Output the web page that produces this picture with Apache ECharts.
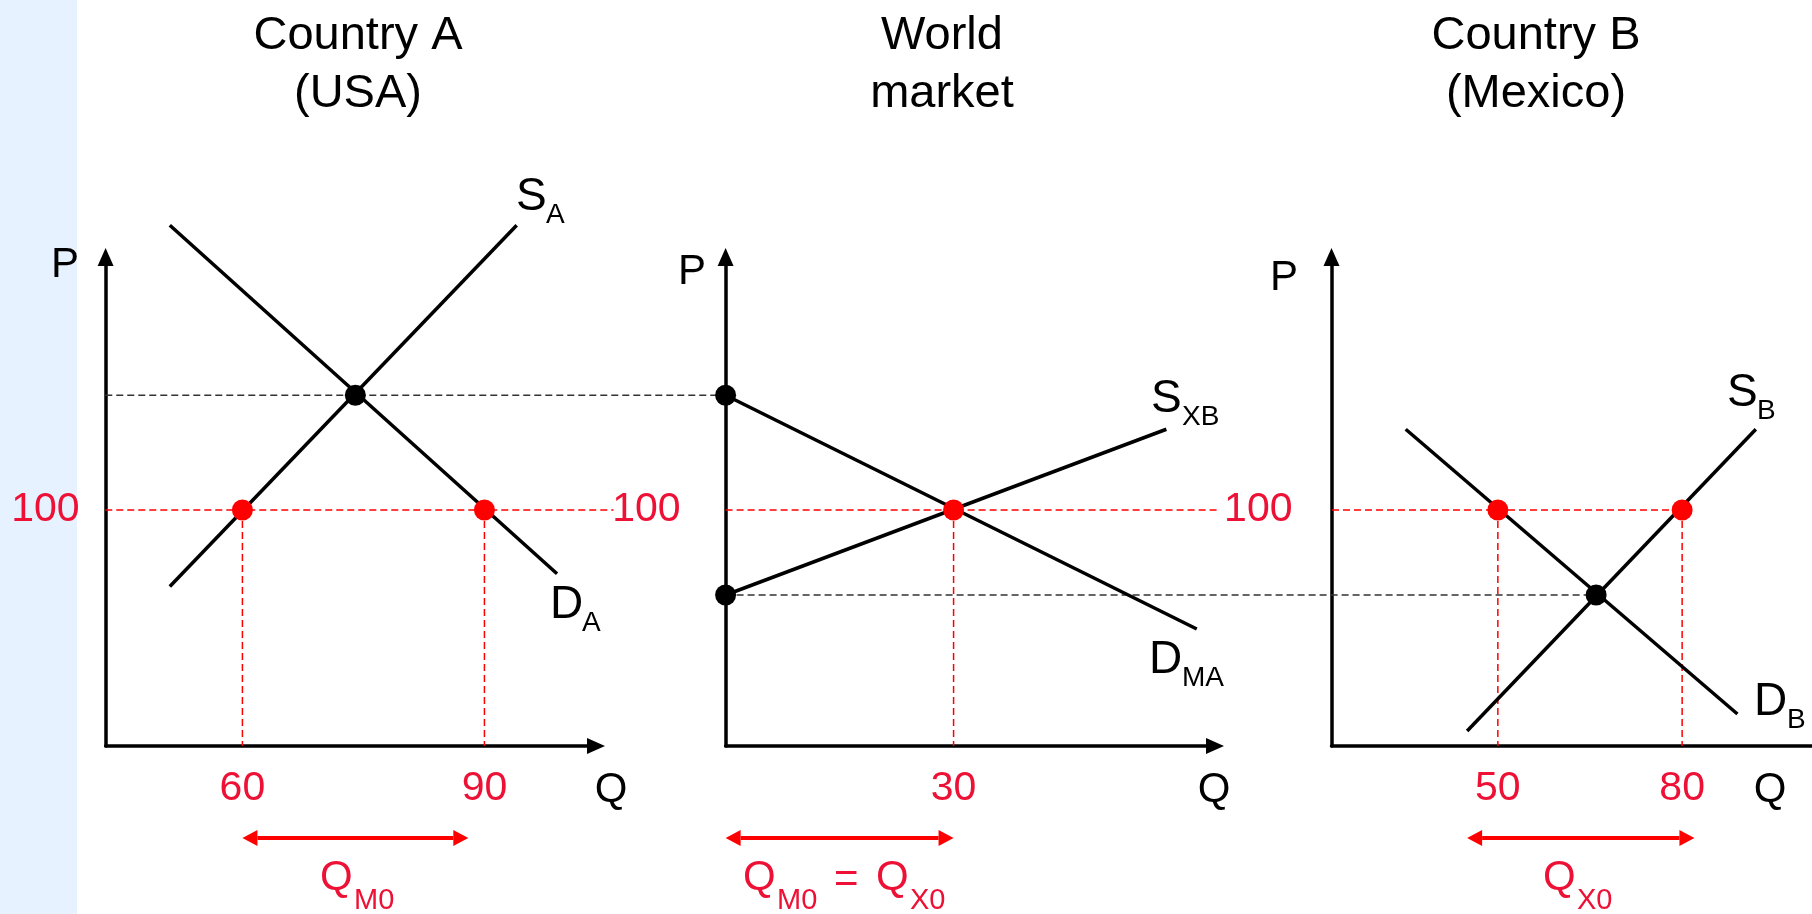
<!DOCTYPE html>
<html>
<head>
<meta charset="utf-8">
<title>Country A, world market, Country B</title>
<script src="https://cdn.jsdelivr.net/npm/echarts@6/dist/echarts.min.js"></script>
<style>
  html, body { margin: 0; padding: 0; background: #fff; }
  #chart { width: 1812px; height: 914px; }
</style>
</head>
<body>
<div id="chart"></div>
<script>
// country A (USA)
const supplyA = [[51, 82], [94, 167]]
const demandA = [[51, 167], [99, 85]]
const equilibriumA = [[74, 127]]
const tradeA = [[60, 100], [90, 100]]
const ticksA = [60, 90]
const arrowA = [60, 88]

// world market
const demandMA = [[0, 127], [62, 72]]
const supplyXB = [[0, 80], [58, 119]]
const interceptsW = [[0, 127], [0, 80]]
const tradeW = [[30, 100]]
const ticksW = [30]
const arrowW = [0, 30]

// country B (Mexico)
const supplyB = [[45, 48], [92, 119]]
const demandB = [[35, 119], [89, 52]]
const equilibriumB = [[66, 80]]
const tradeB = [[50, 100], [80, 100]]
const ticksB = [50, 80]
const arrowB = [45, 82]

// prices and guide lines (they run across to the next panel)
const priceTicks = [100]
const autarkyGuideA = [[43, 127], [119, 127]]
const autarkyGuideB = [[0, 80], [115, 80]]
const worldGuideA = [[43, 100], [106, 100]]
const worldGuideW = [[0, 100], [65, 100]]
const worldGuideB = [[23, 100], [80, 100]]

const P_MIN = 44.47
const P_MAX = 159.53
const FONT = '"Liberation Sans", Arial, sans-serif'
const RED = '#ff0000'
const TEXT_RED = '#ee1136'
const ARROW_DROP = 92

const chart = echarts.init(document.getElementById('chart'))

function axisLine() {
  return {
    onZero: false,
    symbol: ['none', 'triangle'],
    symbolSize: [16, 18],
    lineStyle: { color: '#000', width: 3.5 }
  }
}

function qAxis(idx, min, max, ticks) {
  return {
    type: 'value', gridIndex: idx, min: min, max: max,
    axisLine: axisLine(),
    axisTick: { show: false },
    splitLine: { show: false },
    axisLabel: { customValues: ticks, color: TEXT_RED, fontSize: 41, fontFamily: FONT, margin: 22 }
  }
}

function pAxis(idx, margin) {
  return {
    type: 'value', gridIndex: idx, min: P_MIN, max: P_MAX,
    axisLine: axisLine(),
    axisTick: { show: false },
    splitLine: { show: false },
    axisLabel: { customValues: priceTicks, color: TEXT_RED, fontSize: 41, fontFamily: FONT, margin: margin }
  }
}

function curve(idx, data) {
  return {
    type: 'line', xAxisIndex: idx, yAxisIndex: idx, data: data,
    symbol: 'none', clip: false, silent: true, z: 3,
    lineStyle: { color: '#000', width: 3.5 }
  }
}

// dashed guides are custom items so they are not cut at the grid edge
function guides(idx, segments, color) {
  return {
    type: 'custom', xAxisIndex: idx, yAxisIndex: idx, silent: true, z: 2,
    data: segments.map(s => [s[0][0], s[0][1], s[1][0], s[1][1]]),
    encode: { x: [0, 2], y: [1, 3] },
    renderItem: function (params, api) {
      const a = api.coord([api.value(0), api.value(1)])
      const b = api.coord([api.value(2), api.value(3)])
      return {
        type: 'line',
        shape: { x1: a[0], y1: a[1], x2: b[0], y2: b[1] },
        style: { stroke: color, lineWidth: 1.5, lineDash: [7, 4] }
      }
    }
  }
}

function drops(qs) {
  return qs.map(q => [[q, 100], [q, P_MIN]])
}

function dots(idx, data, color) {
  return {
    type: 'scatter', xAxisIndex: idx, yAxisIndex: idx, data: data,
    symbolSize: 21, clip: false, silent: true, z: 5,
    itemStyle: { color: color, opacity: 1 }
  }
}

function renderArrow(params, api) {
  const a = api.coord([api.value(0), P_MIN])
  const b = api.coord([api.value(1), P_MIN])
  const y = a[1] + ARROW_DROP
  const x1 = a[0]
  const x2 = b[0]
  const h = 15
  const w = 8
  return {
    type: 'group',
    children: [
      { type: 'line', shape: { x1: x1 + h, y1: y, x2: x2 - h, y2: y }, style: { stroke: RED, lineWidth: 4 } },
      { type: 'polygon', shape: { points: [[x1, y], [x1 + h, y - w], [x1 + h, y + w]] }, style: { fill: RED } },
      { type: 'polygon', shape: { points: [[x2, y], [x2 - h, y - w], [x2 - h, y + w]] }, style: { fill: RED } }
    ]
  }
}

function arrow(idx, data) {
  return {
    type: 'custom', xAxisIndex: idx, yAxisIndex: idx, data: [data],
    renderItem: renderArrow, silent: true, z: 4
  }
}

function text(x, y, str, size, color, align) {
  return {
    type: 'text', x: x, y: y, silent: true,
    style: { text: str, fontSize: size, fontFamily: FONT, fill: color, align: align || 'left', verticalAlign: 'middle' }
  }
}

// curve name with subscript
function curveName(x, y, main, sub, subX) {
  return [text(x, y, main, 46, '#000'), text(subX, y + 18, sub, 28, '#000')]
}

// red quantity name with subscript
function qName(x, sub, subX) {
  return [text(x, 878, 'Q', 42, TEXT_RED), text(subX, 901, sub, 29, TEXT_RED)]
}

function title(x, str) {
  return {
    type: 'text', x: x, y: 7, silent: true,
    style: { text: str, fontSize: 47, lineHeight: 58, fontFamily: FONT, fill: '#000', align: 'center', verticalAlign: 'top' }
  }
}

chart.setOption({
  animation: false,
  backgroundColor: '#fff',
  grid: [
    { left: 105.6, top: 257, width: 490.4, height: 489, outerBoundsMode: 'none' },
    { left: 725.6, top: 257, width: 489.4, height: 489, outerBoundsMode: 'none' },
    { left: 1331.5, top: 257, width: 508.5, height: 489, outerBoundsMode: 'none' }
  ],
  xAxis: [
    qAxis(0, 43.04, 103.83, ticksA),
    qAxis(1, 0, 64.4, ticksW),
    qAxis(2, 22.92, 105.7, ticksB)
  ],
  yAxis: [
    pAxis(0, 26),
    pAxis(1, 45),
    pAxis(2, 39)
  ],
  graphic: [
    { type: 'rect', shape: { x: 0, y: 0, width: 77, height: 914 }, style: { fill: '#e6f2ff' }, z: -10, silent: true },
    title(358, 'Country A\n(USA)'),
    title(942, 'World\nmarket'),
    title(1536, 'Country B\n(Mexico)'),
    text(65, 265, 'P', 42, '#000', 'center'),
    text(692, 272, 'P', 42, '#000', 'center'),
    text(1284, 278, 'P', 42, '#000', 'center'),
    text(611, 790, 'Q', 42, '#000', 'center'),
    text(1214, 790, 'Q', 42, '#000', 'center'),
    text(1770, 790, 'Q', 42, '#000', 'center'),
    ...curveName(516, 197, 'S', 'A', 546),
    ...curveName(550, 605, 'D', 'A', 582),
    ...curveName(1151, 399, 'S', 'XB', 1182),
    ...curveName(1149, 660, 'D', 'MA', 1182),
    ...curveName(1727, 393, 'S', 'B', 1757),
    ...curveName(1754, 702, 'D', 'B', 1787),
    ...qName(320, 'M0', 354),
    ...qName(743, 'M0', 777),
    text(834, 880, '=', 42, TEXT_RED),
    ...qName(876, 'X0', 910),
    ...qName(1543, 'X0', 1577)
  ],
  series: [
    guides(0, [autarkyGuideA], '#333'),
    guides(1, [autarkyGuideB], '#333'),
    guides(0, [worldGuideA, ...drops(ticksA)], RED),
    guides(1, [worldGuideW, ...drops(ticksW)], RED),
    guides(2, [worldGuideB, ...drops(ticksB)], RED),
    curve(0, supplyA),
    curve(0, demandA),
    curve(1, demandMA),
    curve(1, supplyXB),
    curve(2, supplyB),
    curve(2, demandB),
    dots(0, equilibriumA, '#000'),
    dots(0, tradeA, RED),
    dots(1, interceptsW, '#000'),
    dots(1, tradeW, RED),
    dots(2, equilibriumB, '#000'),
    dots(2, tradeB, RED),
    arrow(0, arrowA),
    arrow(1, arrowW),
    arrow(2, arrowB)
  ]
})
</script>
</body>
</html>
